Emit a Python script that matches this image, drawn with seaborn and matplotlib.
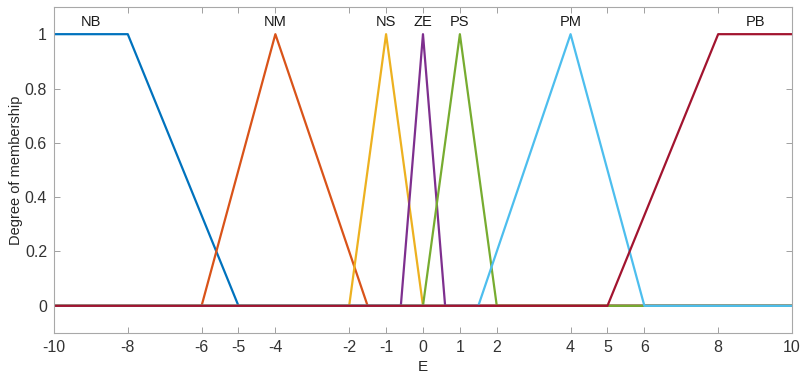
import numpy as np
import pandas as pd
import matplotlib
matplotlib.use("Agg")
import matplotlib.pyplot as plt
import seaborn as sns

# fuzzy sets of input E (MATLAB-style trimf / trapmf parameters)
set_names = ['NB', 'NM', 'NS', 'ZE', 'PS', 'PM', 'PB']
set_params = [
    [-10, -10, -8, -5],   # trapmf
    [-6, -4, -1.5],       # trimf
    [-2, -1, 0],
    [-0.6, 0, 0.6],
    [0, 1, 2],
    [1.5, 4, 6],
    [5, 8, 10, 10],       # trapmf
]
label_x = [-9, -4, -1, 0, 1, 4, 9]
x_range = [-10, 10]
x_ticks = [-10, -8, -6, -5, -4, -2, -1, 0, 1, 2, 4, 5, 6, 8, 10]
y_ticks = [0, 0.2, 0.4, 0.6, 0.8, 1]
colors = ['#0072BD', '#D95319', '#EDB120', '#7E2F8E', '#77AC30', '#4DBEEE', '#A2142F']


def vertices(p):
    # corner points of the membership shape, padded with zeros to the range
    ys = [0, 1, 0] if len(p) == 3 else [0, 1, 1, 0]
    pts = list(zip(p, ys))
    if p[0] == p[1]:
        pts = pts[1:]
    if p[-1] == p[-2]:
        pts = pts[:-1]
    if pts[0][0] > x_range[0]:
        pts = [(x_range[0], 0)] + pts
    if pts[-1][0] < x_range[1]:
        pts = pts + [(x_range[1], 0)]
    return pts


rows = []
for name, p in zip(set_names, set_params):
    for k, (x, y) in enumerate(vertices(p)):
        rows.append({'set': name, 'order': k, 'E': x, 'mu': y})
df = pd.DataFrame(rows)

sns.set_style('white')
plt.rcParams['font.family'] = ['Liberation Sans', 'DejaVu Sans']

fig = plt.figure(figsize=(8.02, 3.79), dpi=100)
ax = fig.add_axes([0.0673, 0.1214, 0.9202, 0.8601])

sns.lineplot(data=df, x='E', y='mu', hue='set', hue_order=set_names,
             palette=colors, estimator=None, sort=False, units='set',
             linewidth=1.6, legend=False, ax=ax)

for name, lx in zip(set_names, label_x):
    ax.text(lx, 1.045, name, ha='center', va='center', fontsize=10.5, color='#1a1a1a')

ax.set_xlim(x_range)
ax.set_ylim(-0.1, 1.1)
ax.set_xticks(x_ticks)
ax.set_xticklabels([str(t) for t in x_ticks])
ax.set_yticks(y_ticks)
ax.set_yticklabels(['0', '0.2', '0.4', '0.6', '0.8', '1'])
ax.set_xlabel('E', fontsize=11, color='#262626', labelpad=4)
ax.set_ylabel('Degree of membership', fontsize=10.5, color='#262626', labelpad=1)
ax.tick_params(direction='in', length=4, width=0.7, colors='#a0a0a0',
               labelcolor='#333333', labelsize=11.5, top=True, right=True,
               bottom=True, left=True, pad=5)
for s in ax.spines.values():
    s.set_color('#a8a8a8')
    s.set_linewidth(0.8)

fig.savefig('out.png', dpi=100)
